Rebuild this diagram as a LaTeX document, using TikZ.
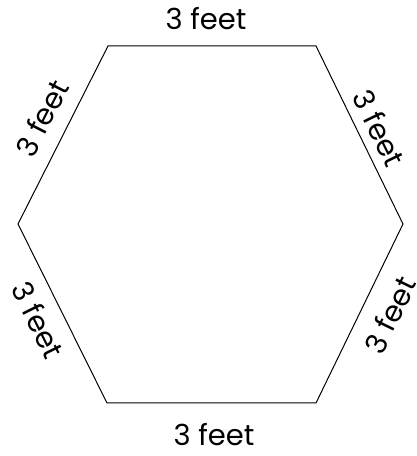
\documentclass[tikz,border=0pt]{standalone}
\usepackage{fontspec}
\setmainfont{Poppins}
\usepackage{tikz}

\begin{document}
\begin{tikzpicture}[x=1pt, y=1pt, every node/.style={font=\fontsize{29}{30}\selectfont, inner sep=0pt}, side/.style={line width=1pt, line join=miter}]
	\useasboundingbox (0,0) rectangle (417,456);
	\coordinate (tl) at (108,410);
	\coordinate (tr) at (316,410);
	\coordinate (r) at (403,232);
	\coordinate (br) at (316,53);
	\coordinate (bl) at (107,53);
	\coordinate (l) at (18,232);
	\draw[side] (tl) -- (tr) -- (r) -- (br) -- (bl) -- (l) -- cycle;
	\node (top) at (206,437) {3 feet};
	\node (bottom) at (214,21) {3 feet};
	\node[rotate=63] (upleft) at (42,338) {3 feet};
	\node[rotate=-64] (upright) at (379,328) {3 feet};
	\node[rotate=-63.5] (lowleft) at (38,136) {3 feet};
	\node[rotate=64] (lowright) at (390,141) {3 feet};
\end{tikzpicture}
\end{document}
